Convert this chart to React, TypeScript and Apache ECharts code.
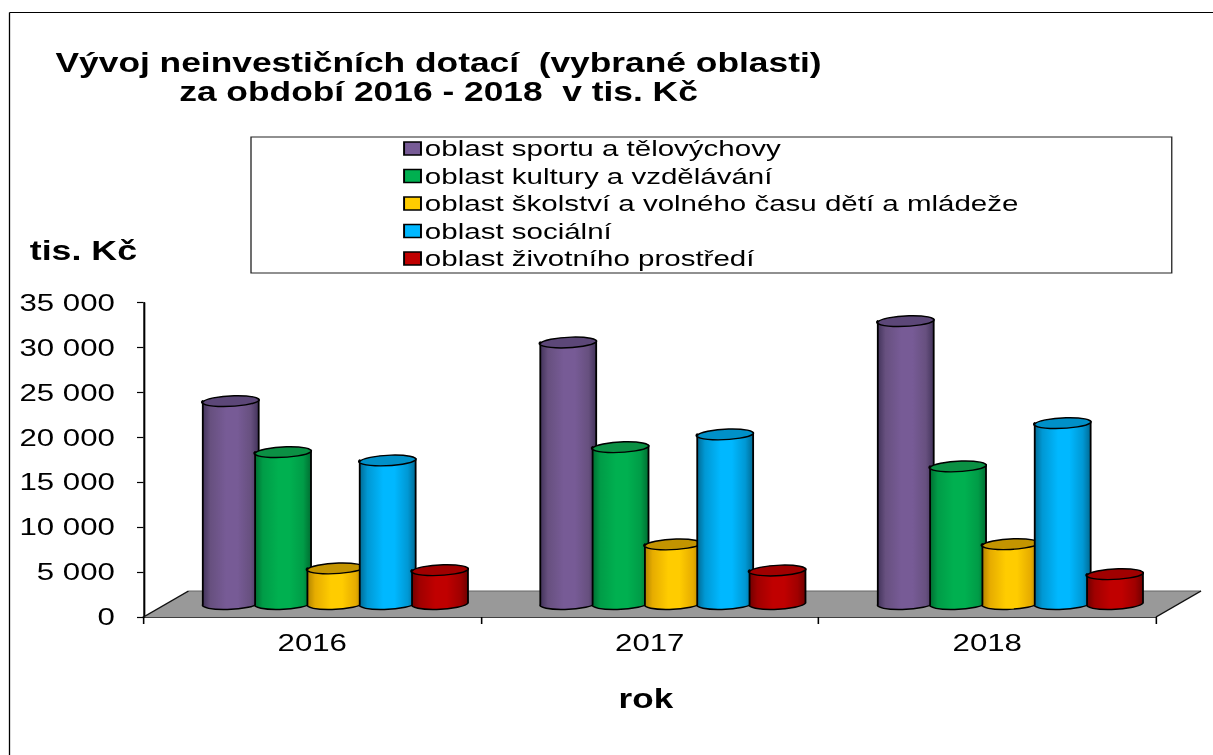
import React, { useEffect, useRef } from "react";
import * as echarts from "echarts";

const K = 1.3; // the reference is a horizontally stretched picture
const years = ["2016", "2017", "2018"];
const sport = [22530, 29060, 31440];
const kultura = [16850, 17400, 15260];
const skolstvi = [3900, 6570, 6600];
const socialni = [15920, 18820, 20080];
const prostredi = [3710, 3670, 3260];

const names = [
  "oblast sportu a tělovýchovy",
  "oblast kultury a vzdělávání",
  "oblast školství a volného času dětí a mládeže",
  "oblast sociální",
  "oblast životního prostředí",
];
const seriesValues = [sport, kultura, skolstvi, socialni, prostredi];
const solid = ["#775b96", "#00b050", "#ffcc00", "#00b8ff", "#c00000"];
const dark = ["#42335a", "#006e32", "#b08400", "#006a94", "#700000"];
const mid = ["#67507f", "#009c47", "#e6ac00", "#0098d4", "#a00000"];
const top = ["#5c4778", "#0b9044", "#c39400", "#0090c8", "#a00000"];

const FONT = "Liberation Sans";
const DEPTH_Y = 14;
const RY = 5.5;
const TILT = 4;

function cylinder(i: number) {
  return (params: any, api: any) => {
    const band = api.size([1, 0])[0];
    const c = api.coord([api.value(0), api.value(1)]);
    const b = api.coord([api.value(0), 0]);
    const rx = band * 0.083;
    const cx = c[0] + band * 0.0685 + (i - 2) * band * 0.155;
    const topY = c[1] - DEPTH_Y;
    const botY = b[1] - DEPTH_Y;
    const a = (TILT * Math.PI) / 180;
    const ex = rx * Math.cos(a);
    const ey = rx * Math.sin(a);
    const arc = `A${rx} ${RY} ${-TILT} 0`;
    const body = `M${cx - ex} ${topY + ey}L${cx - ex} ${botY + ey}${arc} 0 ${cx + ex} ${botY - ey}L${cx + ex} ${topY - ey}Z`;
    const cap = `M${cx - ex} ${topY + ey}${arc} 1 ${cx + ex} ${topY - ey}${arc} 1 ${cx - ex} ${topY + ey}Z`;
    return {
      type: "group",
      children: [
        {
          type: "path",
          shape: { pathData: body },
          style: {
            fill: new echarts.graphic.LinearGradient(0, 0, 1, 0, [
              { offset: 0, color: dark[i] },
              { offset: 0.14, color: mid[i] },
              { offset: 0.42, color: solid[i] },
              { offset: 0.62, color: solid[i] },
              { offset: 0.86, color: mid[i] },
              { offset: 1, color: dark[i] },
            ]),
            stroke: "#000",
            lineWidth: 1.4,
            lineJoin: "round",
          },
        },
        {
          type: "path",
          shape: { pathData: cap },
          style: { fill: top[i], stroke: "#000", lineWidth: 1.4, lineJoin: "round" },
        },
      ],
    };
  };
}

function floor(params: any, api: any) {
  const g = params.coordSys;
  const dx = 45 / K;
  const dy = 26;
  const y0 = g.y + g.height;
  const x0 = g.x;
  const x1 = g.x + g.width;
  const line = (a: number[], b: number[], stroke = "#111") => ({
    type: "line",
    shape: { x1: a[0], y1: a[1], x2: b[0], y2: b[1] },
    style: { stroke, lineWidth: 1.2 },
  });
  return {
    type: "group",
    children: [
      {
        type: "polygon",
        shape: { points: [[x0, y0], [x1, y0], [x1 + dx, y0 - dy], [x0 + dx, y0 - dy]] },
        style: { fill: "#999999" },
      },
      line([x0 + dx, y0 - dy], [x1 + dx, y0 - dy], "#666"),
      line([x0, y0], [x0 + dx, y0 - dy]),
      line([x1, y0], [x1 + dx, y0 - dy]),
    ],
  };
}

export default function App() {
  const ref = useRef<HTMLDivElement>(null);
  useEffect(() => {
    const chart = echarts.init(ref.current!, null, { renderer: "svg" });
    chart.setOption({
      animation: false,
      backgroundColor: "#fff",
      title: {
        text: "Vývoj neinvestičních dotací  (vybrané oblasti)\nza období 2016 - 2018  v tis. Kč",
        left: 432 / K,
        top: 43,
        textAlign: "center",
        textStyle: { fontFamily: FONT, fontSize: 27.2, fontWeight: "bold", color: "#000", lineHeight: 29 },
      },
      legend: {
        show: true,
        orient: "vertical",
        left: 251 / K,
        top: 137,
        data: names,
        icon: "rect",
        itemWidth: 13,
        itemHeight: 13,
        itemGap: 4.5,
        padding: [0, 118, 3, 117],
        borderColor: "#222",
        borderWidth: 1,
        backgroundColor: "#fff",
        selectedMode: false,
        itemStyle: { borderColor: "#000", borderWidth: 1.5 },
        textStyle: { fontFamily: FONT, fontSize: 22.7, color: "#000", padding: [0, 0, 0, -2] },
      },
      graphic: [
        { type: "line", shape: { x1: 9.5 / K, y1: 12.5, x2: 1213 / K, y2: 12.5 }, style: { stroke: "#000", lineWidth: 1 } },
        { type: "line", shape: { x1: 9.5 / K, y1: 12.5, x2: 9.5 / K, y2: 755 }, style: { stroke: "#000", lineWidth: 1 } },
      ],
      grid: { left: 143.5 / K, width: (1156 - 143.5) / K, top: 302.7, height: 314.3 },
      xAxis: {
        type: "category",
        data: years,
        name: "rok",
        nameLocation: "middle",
        nameGap: 68,
        nameTextStyle: { fontFamily: FONT, fontSize: 27, fontWeight: "bold", color: "#000", padding: [0, 6, 0, 0] },
        axisLine: { lineStyle: { color: "#000", width: 1.6 } },
        axisTick: { show: true, length: 7, lineStyle: { color: "#000", width: 1.2 } },
        axisLabel: { fontFamily: FONT, fontSize: 24, color: "#000", margin: 14 },
      },
      yAxis: {
        type: "value",
        min: 0,
        max: 35000,
        interval: 5000,
        name: "tis. Kč",
        nameLocation: "end",
        nameGap: 52,
        nameTextStyle: { fontFamily: FONT, fontSize: 27.5, fontWeight: "bold", color: "#000", align: "right", verticalAlign: "middle", padding: [0, 5, 0, 0] },
        splitLine: { show: false },
        axisLine: { show: true, lineStyle: { color: "#000", width: 1.6 } },
        axisTick: { show: true, length: 5, lineStyle: { color: "#000", width: 1.2 } },
        axisLabel: {
          fontFamily: FONT,
          fontSize: 24,
          color: "#000",
          margin: 22,
          formatter: (v: number) => String(v).replace(/\B(?=(\d{3})+$)/g, " "),
        },
      },
      series: [
        { type: "custom", name: "floor", renderItem: floor, data: [[0, 0]], encode: { x: 0, y: 1 }, clip: false, silent: true },
        ...names.map((name, i) => ({
          type: "custom",
          name,
          renderItem: cylinder(i),
          data: seriesValues[i].map((v, j) => [j, v]),
          encode: { x: 0, y: 1 },
          clip: false,
          itemStyle: { color: solid[i] },
        })),
      ],
    });
    return () => chart.dispose();
  }, []);
  return (
    <div
      ref={ref}
      style={{
        position: "fixed",
        left: 0,
        top: 0,
        width: 1213 / K,
        height: 755,
        transform: `scaleX(${K})`,
        transformOrigin: "0 0",
        filter: "blur(0.45px)",
      }}
    />
  );
}
